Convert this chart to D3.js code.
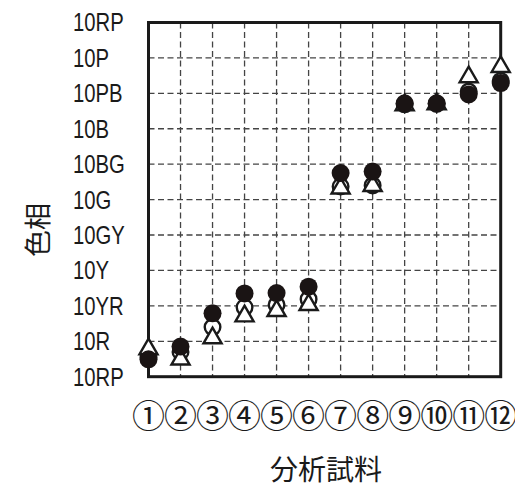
<!DOCTYPE html>
<html>
<head>
<meta charset="utf-8">
<script src="https://cdn.jsdelivr.net/npm/d3@7"></script>
<style>
  body { margin: 0; background: #fff; }
  svg { display: block; }
</style>
</head>
<body>
<div id="chart"></div>
<script>
// samples and hue ticks (10RP at bottom = 0, each step one hue band)
const samples = ["①", "②", "③", "④", "⑤", "⑥", "⑦", "⑧", "⑨", "⑩", "⑪", "⑫"];
const hueTicks = ["10RP", "10R", "10YR", "10Y", "10GY", "10G", "10BG", "10B", "10PB", "10P", "10RP"];

// three series
const filledCircle = [0.49, 0.85, 1.79, 2.35, 2.36, 2.54, 5.75, 5.79, 7.72, 7.72, 7.97, 8.29];
const openCircle   = [0.55, 0.70, 1.40, 1.96, 2.03, 2.19, 5.37, 5.40, 7.69, 7.70, 8.05, 8.35];
const triangle     = [0.78, 0.49, 1.09, 1.71, 1.86, 2.03, 5.32, 5.39, 7.67, 7.70, 8.46, 8.75];

const width = 515, height = 487;
const plot = { left: 148.5, right: 500.7, top: 22.5, bottom: 376.7 };

const svg = d3.select("#chart").append("svg")
    .attr("width", width)
    .attr("height", height);

const x = d3.scalePoint().domain(d3.range(samples.length)).range([plot.left, plot.right]).padding(0);
const y = d3.scaleLinear().domain([0, hueTicks.length - 1]).range([plot.bottom, plot.top]);

// dashed grid
const grid = svg.append("g")
    .attr("stroke", "#444")
    .attr("stroke-width", 1.3)
    .attr("stroke-dasharray", "6,3.5");

grid.selectAll("line.h")
    .data(d3.range(1, hueTicks.length - 1))
    .join("line")
    .attr("class", "h")
    .attr("x1", plot.left).attr("x2", plot.right)
    .attr("y1", d => y(d)).attr("y2", d => y(d));

grid.selectAll("line.v")
    .data(d3.range(1, samples.length - 1))
    .join("line")
    .attr("class", "v")
    .attr("x1", d => x(d)).attr("x2", d => x(d))
    .attr("y1", plot.top).attr("y2", plot.bottom);

// frame
svg.append("rect")
    .attr("x", plot.left).attr("y", plot.top)
    .attr("width", plot.right - plot.left).attr("height", plot.bottom - plot.top)
    .attr("fill", "none")
    .attr("stroke", "#1a1a1a")
    .attr("stroke-width", 3);

// y tick labels, condensed look
svg.append("g").selectAll("text")
    .data(hueTicks)
    .join("text")
    .attr("transform", (d, i) => `translate(73,${y(i)}) scale(0.78,1)`)
    .attr("dominant-baseline", "central")
    .attr("font-family", "'Liberation Sans', Arial, sans-serif")
    .attr("font-size", 26)
    .attr("fill", "#1a1a1a")
    .text(d => d);

// x tick labels
svg.append("g").selectAll("text")
    .data(samples)
    .join("text")
    .attr("x", (d, i) => x(i))
    .attr("y", 413.5)
    .attr("text-anchor", "middle")
    .attr("dominant-baseline", "central")
    .attr("font-family", "'Noto Sans CJK JP', sans-serif")
    .attr("font-size", 33)
    .attr("fill", "#1a1a1a")
    .text(d => d);

// axis titles
svg.append("text")
    .attr("transform", "translate(36,230) rotate(-90)")
    .attr("text-anchor", "middle")
    .attr("dominant-baseline", "central")
    .attr("font-family", "'Noto Sans CJK JP', sans-serif")
    .attr("font-size", 27)
    .attr("fill", "#1a1a1a")
    .text("色相");

svg.append("text")
    .attr("x", 326)
    .attr("y", 468)
    .attr("text-anchor", "middle")
    .attr("dominant-baseline", "central")
    .attr("font-family", "'Noto Sans CJK JP', sans-serif")
    .attr("font-size", 28)
    .attr("fill", "#1a1a1a")
    .text("分析試料");

// markers: open circle, then triangle, then filled circle on top
svg.append("g").selectAll("circle")
    .data(openCircle)
    .join("circle")
    .attr("cx", (d, i) => x(i))
    .attr("cy", d => y(d))
    .attr("r", 7.8)
    .attr("fill", "#fff")
    .attr("stroke", "#1a1a1a")
    .attr("stroke-width", 2.4);

const tri = d3.symbol().type(d3.symbolTriangle).size(142);
svg.append("g").selectAll("path")
    .data(triangle)
    .join("path")
    .attr("d", tri)
    .attr("transform", (d, i) => `translate(${x(i)},${y(d)})`)
    .attr("fill", "#fff")
    .attr("stroke", "#1a1a1a")
    .attr("stroke-width", 2.4)
    .attr("stroke-linejoin", "miter");

svg.append("g").selectAll("circle")
    .data(filledCircle)
    .join("circle")
    .attr("cx", (d, i) => x(i))
    .attr("cy", d => y(d))
    .attr("r", 9)
    .attr("fill", "#1a1414");
</script>
</body>
</html>
